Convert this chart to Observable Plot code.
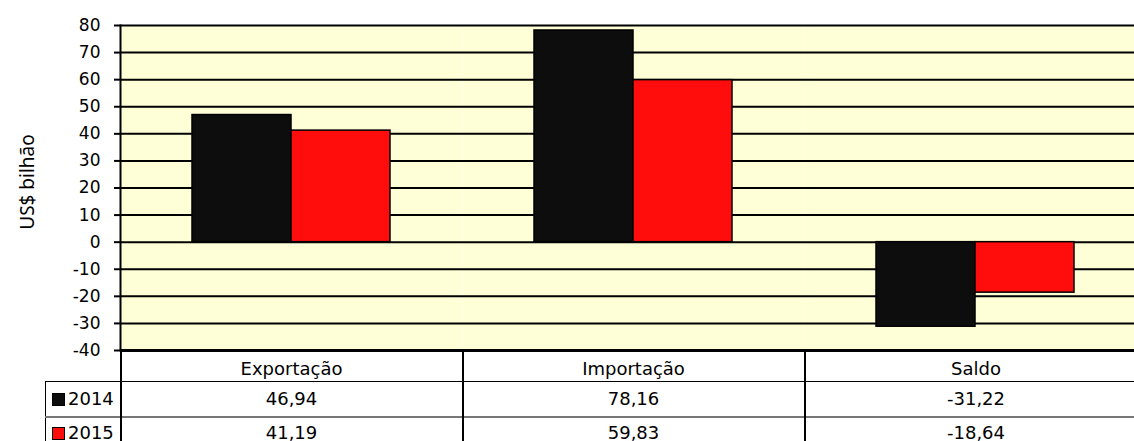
<!DOCTYPE html>
<html>
<head>
<meta charset="utf-8">
<script src="https://cdn.jsdelivr.net/npm/d3@7"></script>
<script src="https://cdn.jsdelivr.net/npm/@observablehq/plot@0.6"></script>
<style>
html, body { margin: 0; padding: 0; background: #fff; overflow: hidden; }
#wrap { position: relative; width: 1134px; height: 441px; overflow: hidden; }
#chart { position: absolute; left: 0; top: 0; width: 1146px; }
#ylab { position: absolute; left: 27px; top: 182px; transform: translate(-50%, -50%) rotate(-90deg);
  font: 19px "Noto Sans", sans-serif; color: #000; white-space: nowrap; }
table { position: absolute; left: 45px; top: 349px; width: 1101px; border-collapse: collapse; table-layout: fixed;
  font: 18px "DejaVu Sans", sans-serif; color: #000; }
td { padding: 0; text-align: center; vertical-align: middle; white-space: nowrap; overflow: visible; }
tr.hdr td { height: 32px; padding-top: 7px; box-sizing: border-box; }
tr.r1 td { height: 34px; border-top: 1.5px solid #000; }
tr.r2 td { height: 34px; border-top: 2px solid #777; padding-bottom: 4px; box-sizing: border-box; }
td.c { border-left: 2px solid #000; }
td.leg { text-align: left; padding-left: 6px; border-left: 1.5px solid #000; }
tr.hdr td.leg { border-left: none; }
.key { display: inline-block; width: 11px; height: 11px; border: 1px solid #000; margin-right: 3px; vertical-align: -1px; }
</style>
</head>
<body>
<div id="wrap">
  <div id="chart"></div>
  <div id="ylab"></div>
  <table id="tbl"></table>
</div>
<script>
const categories = ["Exportação", "Importação", "Saldo"];
const years = ["2014", "2015"];
const values2014 = [46.94, 78.16, -31.22];
const values2015 = [41.19, 59.83, -18.64];
const seriesColors = ["#0d0d0d", "#ff0d0d"];
const yTicks = [-40, -30, -20, -10, 0, 10, 20, 30, 40, 50, 60, 70, 80];
const yLabel = "US$ bilhão";
const bgColor = "#ffffd7";

const series = [values2014, values2015];
const rows = [];
categories.forEach((c, i) => years.forEach((y, j) => rows.push({cat: c, year: y, value: series[j][i]})));

const plot = Plot.plot({
  width: 1146,
  height: 352,
  marginTop: 25,
  marginBottom: 2,
  marginLeft: 120,
  marginRight: 0,
  style: "max-width:none;overflow:visible;background:transparent;font-family:'DejaVu Sans',sans-serif;font-size:17px;color:#000;",
  fx: {domain: categories, padding: 0, axis: null},
  x: {domain: years, paddingInner: 0, paddingOuter: 0.727, axis: null},
  y: {domain: [-40, 80], axis: null},
  color: {domain: years, range: seriesColors},
  marks: [
    Plot.frame({fill: bgColor, stroke: "none"}),
    Plot.ruleY(yTicks, {stroke: "#000", strokeWidth: 2}),
    Plot.ruleY([yTicks[0]], {stroke: "#000", strokeWidth: 3}),
    Plot.barY(rows, {fx: "cat", x: "year", y: "value", fill: "year", stroke: "#000", strokeWidth: 1.5}),
    Plot.frame({anchor: "left", facetAnchor: "left", stroke: "#000", strokeWidth: 2}),
    Plot.axisY(yTicks, {
      tickSize: 6, tickPadding: 14, strokeWidth: 2, stroke: "#000", fill: "#000",
      tickFormat: d => String(d), fontSize: 17, label: null
    })
  ]
});
document.getElementById("chart").appendChild(plot);
document.getElementById("ylab").textContent = yLabel;

const fmt = v => v.toFixed(2).replace(".", ",");
const tbl = document.getElementById("tbl");
const colg = document.createElement("colgroup");
[75, 342, 342, 342].forEach(w => { const c = document.createElement("col"); c.style.width = w + "px"; colg.appendChild(c); });
tbl.appendChild(colg);
const hdr = document.createElement("tr"); hdr.className = "hdr";
const blank = document.createElement("td"); blank.className = "leg"; hdr.appendChild(blank);
categories.forEach(c => { const td = document.createElement("td"); td.className = "c"; td.textContent = c; hdr.appendChild(td); });
tbl.appendChild(hdr);
years.forEach((y, j) => {
  const tr = document.createElement("tr"); tr.className = "r" + (j + 1);
  const leg = document.createElement("td"); leg.className = "leg";
  const key = document.createElement("span"); key.className = "key"; key.style.background = seriesColors[j];
  leg.appendChild(key); leg.appendChild(document.createTextNode(y));
  tr.appendChild(leg);
  series[j].forEach(v => { const td = document.createElement("td"); td.className = "c"; td.textContent = fmt(v); tr.appendChild(td); });
  tbl.appendChild(tr);
});
</script>
</body>
</html>
